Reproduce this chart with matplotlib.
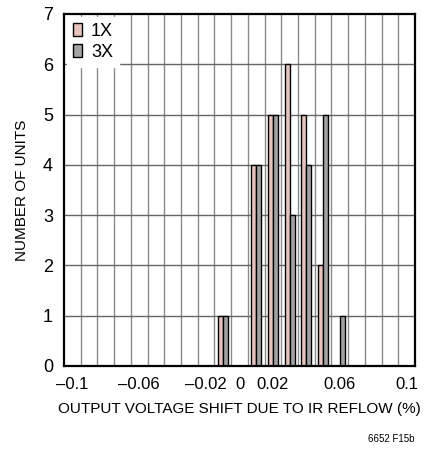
import matplotlib
matplotlib.use('Agg')
import matplotlib.pyplot as plt
import numpy as np

plt.rcParams['font.family'] = ['Liberation Sans', 'DejaVu Sans']

# histogram bins (center of each bin, %)
bins = [-0.01, 0.01, 0.02, 0.03, 0.04, 0.05, 0.06]
units_1x = [1, 4, 5, 6, 5, 2, 0]
units_3x = [1, 4, 5, 3, 4, 5, 1]
xticks = [-0.1, -0.06, -0.02, 0, 0.02, 0.06, 0.1]
xticklabels = ['\u20130.1', '\u20130.06', '\u20130.02', '0', '0.02', '0.06', '0.1']

fig = plt.figure(figsize=(4.25, 4.49), dpi=100)
ax = fig.add_axes([0.1506, 0.1849, 0.826, 0.784])

bw = 0.003
x = np.array(bins)
ax.bar(x - bw / 2, units_1x, width=bw, color='#e6c3bd', edgecolor='black', linewidth=1, label='1X', zorder=3)
ax.bar(x + bw / 2, units_3x, width=bw, color='#a3a3a3', edgecolor='black', linewidth=1, label='3X', zorder=3)

# grid lines on bin edges and unit counts
for gx in np.arange(-0.095, 0.1, 0.01):
    ax.axvline(gx, color='#8a8a8a', linewidth=1, zorder=1)
for gy in range(1, 7):
    ax.axhline(gy, color='#666666', linewidth=1, zorder=1)

ax.set_xlim(-0.105, 0.105)
ax.set_ylim(0, 7)
ax.set_xticks(xticks)
ax.set_xticklabels(xticklabels)
ax.set_yticks(range(0, 8))
ax.tick_params(axis='x', labelsize=12, length=0, pad=8)
ax.tick_params(axis='y', labelsize=13, length=0, pad=8)
for s in ax.spines.values():
    s.set_linewidth(1.6)
    s.set_zorder(4)

ax.set_xlabel('OUTPUT VOLTAGE SHIFT DUE TO IR REFLOW (%)', fontsize=11, labelpad=7)
ax.set_ylabel('NUMBER OF UNITS', fontsize=11, labelpad=10)

leg = ax.legend(loc='upper left', frameon=True, fontsize=13, handlelength=0.5, handleheight=0.75,
                handletextpad=0.5, labelspacing=0.22, borderaxespad=0.15, borderpad=0.35)
leg.get_frame().set_edgecolor('white')
leg.get_frame().set_alpha(1)
leg.get_frame().set_boxstyle('square', pad=0)
leg.set_zorder(5)

fig.text(0.976, 0.012, '6652 F15b', fontsize=7, ha='right', va='bottom')

fig.savefig('out.png', dpi=100)
